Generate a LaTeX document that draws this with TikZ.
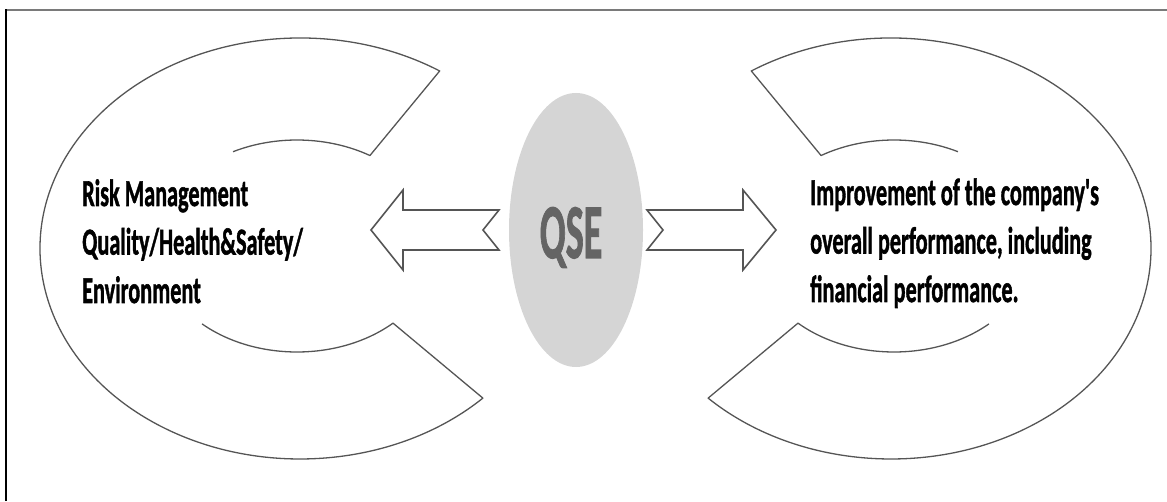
\documentclass[tikz,border=0pt]{standalone}
\usepackage{fontspec}
\usetikzlibrary{calc,shapes.geometric}
\newfontfamily\labelfont{Carlito}[BoldFeatures={FakeBold=1.6}]
\definecolor{rimgray}{HTML}{555555}
\definecolor{framegray}{HTML}{7A7A7A}
\definecolor{qsefill}{HTML}{D5D5D5}
\definecolor{qsetext}{HTML}{646464}
\tikzset{
  rim/.style={draw=rimgray, line width=1.3pt, line join=round},
  blockarrow/.style={draw=rimgray, fill=white, line width=1.6pt, line join=miter},
  caption/.style={inner sep=0pt, anchor=base west, text=black,
    font=\labelfont\bfseries\fontsize{38}{48.5}\selectfont},
}
\begin{document}
\begin{tikzpicture}[x=1pt, y=1pt]
\useasboundingbox (0,0) rectangle (1167,501);

% frame: top and left edges only
\draw[framegray, line width=1.6pt] (6,491) -- (1167,491);
\draw[black, line width=1.2pt] (6,0) -- (6,491.8);

% centres of the two C rings
\coordinate (loc) at (300,252.5);   % left, outer
\coordinate (lic) at (297,255);     % left, inner
\coordinate (roc) at (891,252.5);   % right, outer
\coordinate (ric) at (894,255);     % right, inner

% left C, open to the right
\draw[rim] ($(lic)+(117.2:140pt and 106pt)$)
  arc[start angle=117.2, end angle=58.6, x radius=140pt, y radius=106pt]
  -- ($(loc)+(57.5:260pt and 210.5pt)$)
  arc[start angle=57.5, end angle=314.7, x radius=260pt, y radius=210.5pt]
  -- ($(lic)+(313.3:140pt and 106pt)$)
  arc[start angle=313.3, end angle=227.3, x radius=140pt, y radius=106pt];

% right C, open to the left
\draw[rim] ($(ric)+(62.8:140pt and 106pt)$)
  arc[start angle=62.8, end angle=121.4, x radius=140pt, y radius=106pt]
  -- ($(roc)+(122.5:260pt and 210.5pt)$)
  arc[start angle=122.5, end angle=-134.7, x radius=260pt, y radius=210.5pt]
  -- ($(ric)+(-133.3:140pt and 106pt)$)
  arc[start angle=-133.3, end angle=-47.3, x radius=140pt, y radius=106pt];

% central QSE ellipse
\node[ellipse, fill=qsefill, minimum width=134pt, minimum height=274pt,
      inner sep=0pt] (qse) at (576,271) {};
\node[inner sep=0pt, anchor=base, text=qsetext,
      font=\labelfont\bfseries\fontsize{77.5}{90}\selectfont]
      (qselabel) at (571,243) {\scalebox{0.49}[1]{QSE}};

% notched block arrows pointing outwards
\draw[blockarrow] (371,271) -- (403,311) -- (403,291) -- (499,291)
  -- (483,271) -- (499,251) -- (403,251) -- (403,231) -- cycle;
\draw[blockarrow] (647,291) -- (743,291) -- (743,311) -- (776,271)
  -- (743,231) -- (743,251) -- (647,251) -- (663,271) -- cycle;

% captions
\node[caption] (risk) at (82,295) {\scalebox{0.585}[1]{%
  \begin{tabular}[t]{@{}l@{}}Risk Management\\
  Quality/Health\&Safety/\\ Environment\end{tabular}}};
\node[caption] (gain) at (810,296) {\scalebox{0.585}[1]{%
  \begin{tabular}[t]{@{}l@{}}Improvement of the company's\\
  overall performance, including\\ financial performance.\end{tabular}}};
\end{tikzpicture}
\end{document}
